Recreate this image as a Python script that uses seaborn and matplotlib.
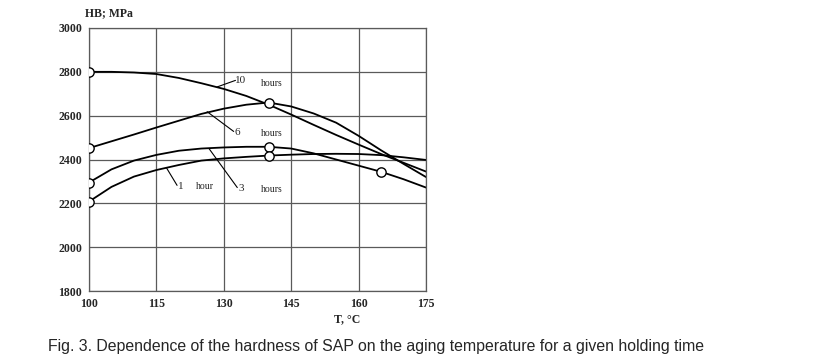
import matplotlib
matplotlib.use("Agg")
import matplotlib.pyplot as plt
import seaborn as sns
import pandas as pd

# hardness HB (MPa) vs aging temperature, every 5 degC
temps = [100, 105, 110, 115, 120, 125, 130, 135, 140, 145, 150, 155, 160, 165, 170, 175]
hb_10h = [2800, 2800, 2797, 2790, 2772, 2748, 2722, 2690, 2650, 2605, 2558, 2512, 2468, 2425, 2385, 2345]
hb_6h = [2452, 2483, 2514, 2546, 2577, 2608, 2632, 2650, 2660, 2642, 2610, 2568, 2508, 2442, 2380, 2320]
hb_3h = [2295, 2355, 2395, 2421, 2440, 2450, 2455, 2458, 2458, 2450, 2428, 2400, 2372, 2344, 2310, 2272]
hb_1h = [2208, 2275, 2322, 2352, 2375, 2395, 2405, 2412, 2418, 2422, 2425, 2426, 2425, 2420, 2410, 2398]

# temperatures where the original draws an open circle
circles = {"10": [100], "6": [100, 140], "3": [100, 140, 165], "1": [100, 140]}

x_ticks = [100, 115, 130, 145, 160, 175]
y_ticks = [1800, 2000, 2200, 2400, 2600, 2800, 3000]

series = {"10": hb_10h, "6": hb_6h, "3": hb_3h, "1": hb_1h}
df = pd.concat([pd.DataFrame({"T": temps, "HB": v, "hours": k}) for k, v in series.items()])
pts = pd.concat([df[(df.hours == k) & df["T"].isin(t)] for k, t in circles.items()])

sns.set_style("white")
serif = ["Liberation Serif", "DejaVu Serif"]

fig = plt.figure(figsize=(8.16, 3.63), dpi=100)
ax = fig.add_axes([89/816, 1-291/363, (426-89)/816, (291-28)/363])

sns.lineplot(data=df, x="T", y="HB", units="hours", estimator=None, color="black",
             lw=1.3, ax=ax, legend=False)
sns.scatterplot(data=pts, x="T", y="HB", marker="o", s=45, facecolor="white",
                edgecolor="black", linewidth=1.0, ax=ax, zorder=5, legend=False)

ax.set_xlim(100, 175)
ax.set_ylim(1800, 3000)
ax.set_xticks(x_ticks)
ax.set_yticks(y_ticks)
ax.grid(True, color="#5a5a5a", lw=0.9)
for s in ax.spines.values():
    s.set_color("#5a5a5a")
    s.set_linewidth(0.9)
ax.tick_params(length=0, pad=5)
for lab in ax.get_xticklabels() + ax.get_yticklabels():
    lab.set_fontfamily(serif)
    lab.set_fontweight("bold")
    lab.set_fontsize(8.5)
ax.set_xlabel("")
ax.set_ylabel("")

# curve labels with leader lines
lead = dict(color="black", lw=0.8)
ax.plot([128.5, 132.6], [2731, 2761], **lead)
ax.plot([126.3, 132.2], [2618, 2528], **lead)
ax.plot([126.7, 133.0], [2450, 2272], **lead)
ax.plot([117.3, 119.6], [2360, 2282], **lead)
tk = dict(fontfamily=serif, fontsize=7, va="center")
ax.text(132.6, 2761, "10", fontfamily=serif, fontsize=8, va="center")
ax.text(138.3, 2745, "hours", **tk)
ax.text(132.4, 2524, "6", fontfamily=serif, fontsize=8, va="center")
ax.text(138.3, 2520, "hours", **tk)
ax.text(133.2, 2266, "3", fontfamily=serif, fontsize=8, va="center")
ax.text(138.3, 2261, "hours", **tk)
ax.text(119.8, 2276, "1", fontfamily=serif, fontsize=8, va="center")
ax.text(123.8, 2276, "hour", **tk)

fig.text(109/816, 1-13/363, "HB; MPa", fontfamily=serif, fontweight="bold",
         fontsize=8.5, ha="center", va="center")
fig.text(347/816, 1-319/363, "T, \u00b0C", fontfamily=serif, fontweight="bold",
         fontsize=8.5, ha="center", va="center")
fig.text(48/816, 1-347/363,
         "Fig. 3. Dependence of the hardness of SAP on the aging temperature for a given holding time",
         fontfamily=["Liberation Sans", "DejaVu Sans"],
         fontsize=11.4, ha="left", va="center")

fig.savefig("out.png", dpi=100)
